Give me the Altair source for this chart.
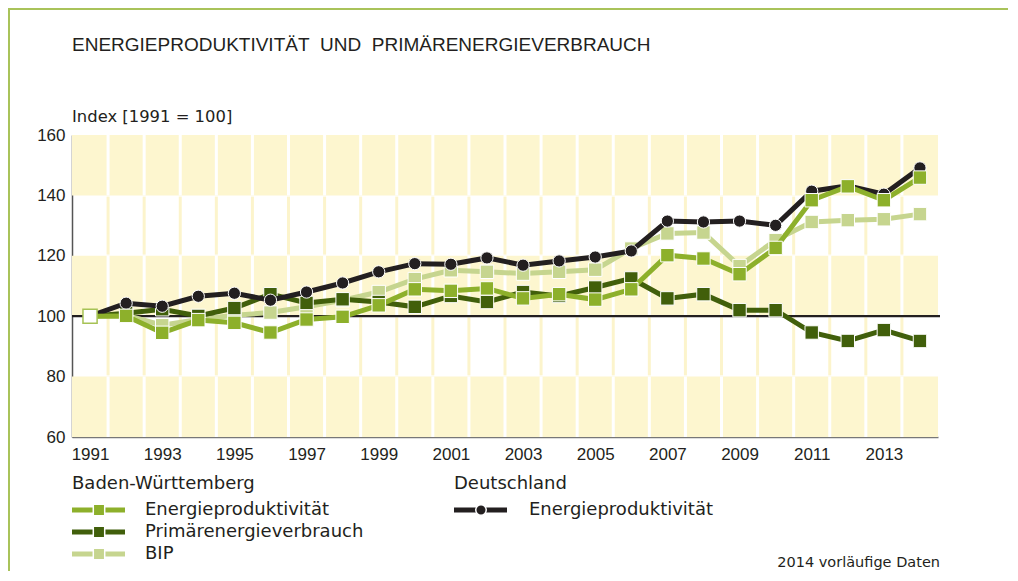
import altair as alt
import pandas as pd

# ---------------- data ----------------
years = list(range(1991, 2015))
de_energie = [100, 104.3, 103.3, 106.6, 107.6, 105.3, 108.0, 111.0, 114.7, 117.4, 117.2, 119.3,
              116.9, 118.3, 119.6, 121.6, 131.5, 131.2, 131.5, 130.1, 141.4, 143.2, 140.4, 149.1]
bw_energie = [100, 100.1, 94.5, 98.7, 97.8, 94.6, 98.9, 99.8, 103.6, 108.9, 108.4, 109.2,
              105.9, 107.3, 105.5, 108.9, 120.2, 119.1, 113.9, 122.6, 138.4, 143.0, 138.4, 145.9]
bw_primaer = [100, 101.0, 102.3, 100.1, 102.7, 107.3, 104.4, 105.6, 104.7, 103.1, 106.7, 104.7,
              108.0, 106.7, 109.5, 112.5, 105.9, 107.3, 102.0, 102.0, 94.6, 91.8, 95.4, 91.8]
bw_bip = [100, 100.3, 97.0, 98.9, 100.3, 101.2, 103.1, 105.3, 108.0, 112.3, 115.2, 114.7,
          114.1, 114.7, 115.4, 122.4, 127.4, 127.7, 116.6, 125.2, 131.2, 131.8, 132.1, 133.8]

x_tick_years = [1991, 1993, 1995, 1997, 1999, 2001, 2003, 2005, 2007, 2009, 2011, 2013]
y_ticks = [60, 80, 100, 120, 140, 160]
row_lo = [60, 80, 100, 120, 140]
row_hi = [80, 100, 120, 140, 160]
row_yellow = [True, False, True, False, True]

title = "ENERGIEPRODUKTIVITÄT\u00a0\u00a0UND\u00a0\u00a0PRIMÄRENERGIEVERBRAUCH"
y_title = "Index [1991 = 100]"
group_bw = "Baden-Württemberg"
group_de = "Deutschland"
lab_energie = "Energieproduktivität"
lab_primaer = "Primärenergieverbrauch"
lab_bip = "BIP"
footnote = "2014 vorläufige Daten"

# ---------------- styles ----------------
FONT = "Liberation Sans"
TFONT = "DejaVu Sans"
TXT = "#231f20"
C_BLACK = "#231f20"
C_MID = "#8db02b"
C_DARK = "#415f0b"
C_LIGHT = "#c6d58f"
C_YEL = "#fdf6cf"
C_PALE = "#fcf4cc"
C_FRAME = "#a9c35a"

W, H = 866, 302
xs = alt.Scale(domain=[1990.5, 2014.5], nice=False, zero=False)
ys = alt.Scale(domain=[60, 160], nice=False, zero=False)

rows = pd.DataFrame({"lo": row_lo, "hi": row_hi, "yellow": row_yellow})
bounds = [y + 0.5 for y in years[:-1]]
seg = []
for b in bounds:
    for lo, hi, yel in zip(row_lo, row_hi, row_yellow):
        if yel:
            seg.append({"b": b, "lo": lo, "hi": hi, "kind": "w"})
        else:
            seg.append({"b": b, "lo": lo + 0.4, "hi": hi - 0.4, "kind": "p"})
seg = pd.DataFrame(seg)

one = pd.DataFrame({"k": [0]})

bg = alt.Chart(rows[rows.yellow]).mark_rect(color=C_YEL).encode(
    x=alt.value(0), x2=alt.value(W),
    y=alt.Y("lo:Q", scale=ys, axis=alt.Axis(values=y_ticks, title=None, ticks=False,
                                           labelFontSize=17, labelFont=FONT, labelColor=TXT,
                                           labelPadding=7, domainColor="#555555", domainWidth=1.5,
                                           grid=False)),
    y2="hi:Q",
)

vrules = alt.Chart(seg).mark_rule(strokeWidth=3).encode(
    x=alt.X("b:Q", scale=xs, axis=alt.Axis(values=x_tick_years, format="d", title=None, ticks=False,
                                           labelFontSize=17, labelFont=FONT, labelColor=TXT,
                                           labelPadding=9, domainColor="#777777", domainWidth=1.5,
                                           grid=False)),
    y=alt.Y("lo:Q", scale=ys),
    y2="hi:Q",
    color=alt.Color("kind:N", scale=alt.Scale(domain=["w", "p"], range=["#ffffff", C_PALE]), legend=None),
)

base_line = alt.Chart(pd.DataFrame({"v": [100]})).mark_rule(color=C_BLACK, strokeWidth=2.2).encode(
    y=alt.Y("v:Q", scale=ys), x=alt.value(0), x2=alt.value(W + 2)
)


def series(vals, color, shape, size):
    df = pd.DataFrame({"year": years, "v": vals})
    ln = alt.Chart(df).mark_line(color=color, strokeWidth=5).encode(
        x=alt.X("year:Q", scale=xs), y=alt.Y("v:Q", scale=ys))
    pt = alt.Chart(df[df.year > years[0]]).mark_point(
        shape=shape, size=size, filled=True, fill=color, stroke="white", strokeWidth=1, opacity=1
    ).encode(x=alt.X("year:Q", scale=xs), y=alt.Y("v:Q", scale=ys))
    return [ln, pt]


layers = [bg, vrules, base_line]
layers += series(bw_bip, C_LIGHT, "square", 180)
layers += series(bw_primaer, C_DARK, "square", 180)
layers += series(de_energie, C_BLACK, "circle", 150)
layers += series(bw_energie, C_MID, "square", 180)

start = alt.Chart(pd.DataFrame({"year": [years[0]], "v": [bw_energie[0]]})).mark_point(
    shape="square", size=200, filled=True, fill="white", stroke="#a6c255", strokeWidth=1.5, opacity=1
).encode(x=alt.X("year:Q", scale=xs), y=alt.Y("v:Q", scale=ys))
layers.append(start)


def text(t, x, y, size=18, align="left", font=TFONT):
    return alt.Chart(one).mark_text(text=t, font=font, fontSize=size, color=TXT, align=align,
                                    baseline="middle").encode(x=alt.value(x), y=alt.value(y))


layers.append(text(title, 0, -90, 19, font=FONT))
layers.append(text(y_title, 0, -18, 16.4))

# frame lines (top/left)
layers.append(alt.Chart(one).mark_rule(color=C_FRAME, strokeWidth=2).encode(
    x=alt.value(-63), x2=alt.value(936), y=alt.value(-126)))
layers.append(alt.Chart(one).mark_rule(color=C_FRAME, strokeWidth=2).encode(
    x=alt.value(-63), y=alt.value(-127), y2=alt.value(436)))


# legend
def legend_item(x0, y, color, shape, size, label, tx):
    r = alt.Chart(one).mark_rule(color=color, strokeWidth=5).encode(
        x=alt.value(x0), x2=alt.value(x0 + 53), y=alt.value(y))
    p = alt.Chart(one).mark_point(shape=shape, size=size, filled=True, fill=color, stroke="white",
                                  strokeWidth=1.5, opacity=1).encode(x=alt.value(x0 + 27), y=alt.value(y))
    return [r, p, text(label, tx, y)]


layers.append(text(group_bw, 0, 349))
layers += legend_item(0, 375, C_MID, "square", 130, lab_energie, 73)
layers += legend_item(0, 397, C_DARK, "square", 130, lab_primaer, 73)
layers += legend_item(0, 419, C_LIGHT, "square", 130, lab_bip, 73)
layers.append(text(group_de, 382, 349))
layers += legend_item(382, 375, C_BLACK, "circle", 110, lab_energie, 457)
layers.append(text(footnote, 868, 428, 14.5, "right"))

chart = alt.layer(*layers).properties(
    width=W, height=H,
    padding={"left": 64, "top": 127, "right": 70, "bottom": 134},
    autosize=alt.AutoSizeParams(type="none"),
    background="white",
).configure_view(stroke=None)

chart.save("out.html", embed_options={"renderer": "svg", "actions": False})
